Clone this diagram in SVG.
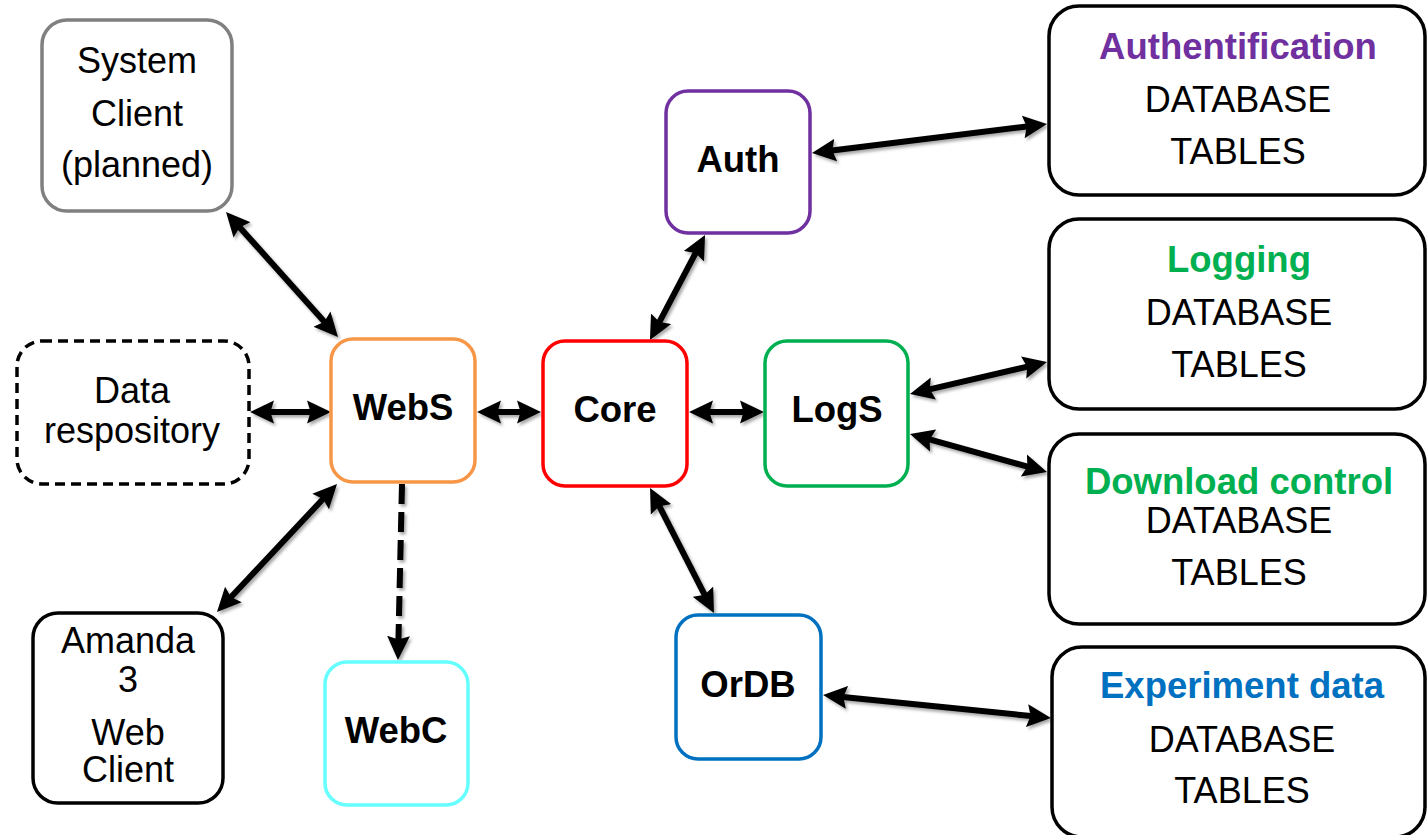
<svg xmlns="http://www.w3.org/2000/svg" width="1427" height="835" viewBox="0 0 1427 835">
<style>
.box{fill:#fff;stroke-width:3.5}
.t{font-family:"Liberation Sans",Arial,sans-serif;font-size:36px;fill:#000;text-anchor:middle}
.b{font-weight:bold;font-size:36.5px}
.c{fill:none;stroke:#000;stroke-width:6}
</style>
<defs>
<marker id="ah" viewBox="0 0 20 20" markerWidth="24" markerHeight="24" markerUnits="userSpaceOnUse" refX="11.67" refY="10" orient="auto-start-reverse">
<path d="M0,0.5 L20,10 L0,19.5 L3,10 z" fill="#000"/>
</marker>
<filter id="sh" x="-20%" y="-20%" width="140%" height="140%">
<feDropShadow dx="2" dy="2.5" stdDeviation="1.5" flood-color="#000" flood-opacity="0.35"/>
</filter>
</defs>
<rect width="1427" height="835" fill="#fff"/>
<g id="connectors" filter="url(#sh)">
<line class="c" x1="232.7" y1="219.5" x2="331.3" y2="329.5" marker-start="url(#ah)" marker-end="url(#ah)"/>
<line class="c" x1="260" y1="412" x2="321" y2="412" marker-start="url(#ah)" marker-end="url(#ah)"/>
<line class="c" x1="223.8" y1="604.7" x2="330.2" y2="491.3" marker-start="url(#ah)" marker-end="url(#ah)"/>
<line class="c" x1="402" y1="484" x2="398.2" y2="650" stroke-width="9" stroke-dasharray="20 8" marker-end="url(#ah)"/>
<line class="c" x1="487" y1="412" x2="531" y2="412" marker-start="url(#ah)" marker-end="url(#ah)"/>
<line class="c" x1="699" y1="412" x2="754" y2="412" marker-start="url(#ah)" marker-end="url(#ah)"/>
<line class="c" x1="654.6" y1="331.1" x2="700.4" y2="243.9" marker-start="url(#ah)" marker-end="url(#ah)"/>
<line class="c" x1="821.9" y1="151.8" x2="1037.1" y2="125.2" marker-start="url(#ah)" marker-end="url(#ah)"/>
<line class="c" x1="919.7" y1="391.7" x2="1037.3" y2="364.3" marker-start="url(#ah)" marker-end="url(#ah)"/>
<line class="c" x1="919.6" y1="436.7" x2="1037.4" y2="469.3" marker-start="url(#ah)" marker-end="url(#ah)"/>
<line class="c" x1="654.6" y1="496.9" x2="709.4" y2="604.1" marker-start="url(#ah)" marker-end="url(#ah)"/>
<line class="c" x1="833" y1="696" x2="1041" y2="717" marker-start="url(#ah)" marker-end="url(#ah)"/>
</g>
<g id="system-client">
<rect class="box" x="42" y="20" width="190" height="191" rx="25" stroke="#808080"/>
<text class="t" x="137" y="73">System</text>
<text class="t" x="137" y="126">Client</text>
<text class="t" x="137" y="177">(planned)</text>
</g>
<g id="data-repository">
<rect class="box" x="17" y="341" width="232" height="143" rx="25" stroke="#000" stroke-width="3" stroke-dasharray="10 6"/>
<text class="t" x="132" y="403">Data</text>
<text class="t" x="132" y="443">respository</text>
</g>
<g id="amanda">
<rect class="box" x="33" y="613" width="190" height="190" rx="25" stroke="#000"/>
<text class="t" x="128" y="653">Amanda</text>
<text class="t" x="128" y="692">3</text>
<text class="t" x="128" y="745">Web</text>
<text class="t" x="128" y="782">Client</text>
</g>
<g id="webs">
<rect class="box" x="331" y="339" width="144" height="143" rx="22" stroke="#F79646"/>
<text class="t b" x="403" y="420">WebS</text>
</g>
<g id="webc">
<rect class="box" x="325" y="662" width="143" height="143" rx="22" stroke="#66FFFF"/>
<text class="t b" x="396" y="743">WebC</text>
</g>
<g id="core">
<rect class="box" x="543" y="341" width="144" height="145" rx="22" stroke="#FF0000"/>
<text class="t b" x="615" y="422">Core</text>
</g>
<g id="auth">
<rect class="box" x="666" y="91" width="144" height="142" rx="22" stroke="#7030A0"/>
<text class="t b" x="738" y="172">Auth</text>
</g>
<g id="logs">
<rect class="box" x="765" y="341" width="143" height="145" rx="22" stroke="#00B050"/>
<text class="t b" x="837" y="422">LogS</text>
</g>
<g id="ordb">
<rect class="box" x="676" y="615" width="145" height="144" rx="22" stroke="#0070C0"/>
<text class="t b" x="748" y="697">OrDB</text>
</g>
<g id="auth-db">
<rect class="box" x="1049" y="6" width="376" height="189" rx="30" stroke="#000"/>
<text class="t b" x="1238" y="59" style="fill:#7030A0">Authentification</text>
<text class="t" x="1238" y="112">DATABASE</text>
<text class="t" x="1238" y="164">TABLES</text>
</g>
<g id="logging-db">
<rect class="box" x="1049" y="219" width="376" height="190" rx="30" stroke="#000"/>
<text class="t b" x="1239" y="272" style="fill:#00B050">Logging</text>
<text class="t" x="1239" y="325">DATABASE</text>
<text class="t" x="1239" y="377">TABLES</text>
</g>
<g id="download-db">
<rect class="box" x="1049" y="434" width="376" height="190" rx="30" stroke="#000"/>
<text class="t b" x="1239" y="494" style="fill:#00B050">Download control</text>
<text class="t" x="1239" y="533">DATABASE</text>
<text class="t" x="1239" y="585">TABLES</text>
</g>
<g id="experiment-db">
<rect class="box" x="1052" y="647" width="373" height="190" rx="30" stroke="#000"/>
<text class="t b" x="1242" y="698" style="fill:#0070C0">Experiment data</text>
<text class="t" x="1242" y="752">DATABASE</text>
<text class="t" x="1242" y="803">TABLES</text>
</g>
</svg>
